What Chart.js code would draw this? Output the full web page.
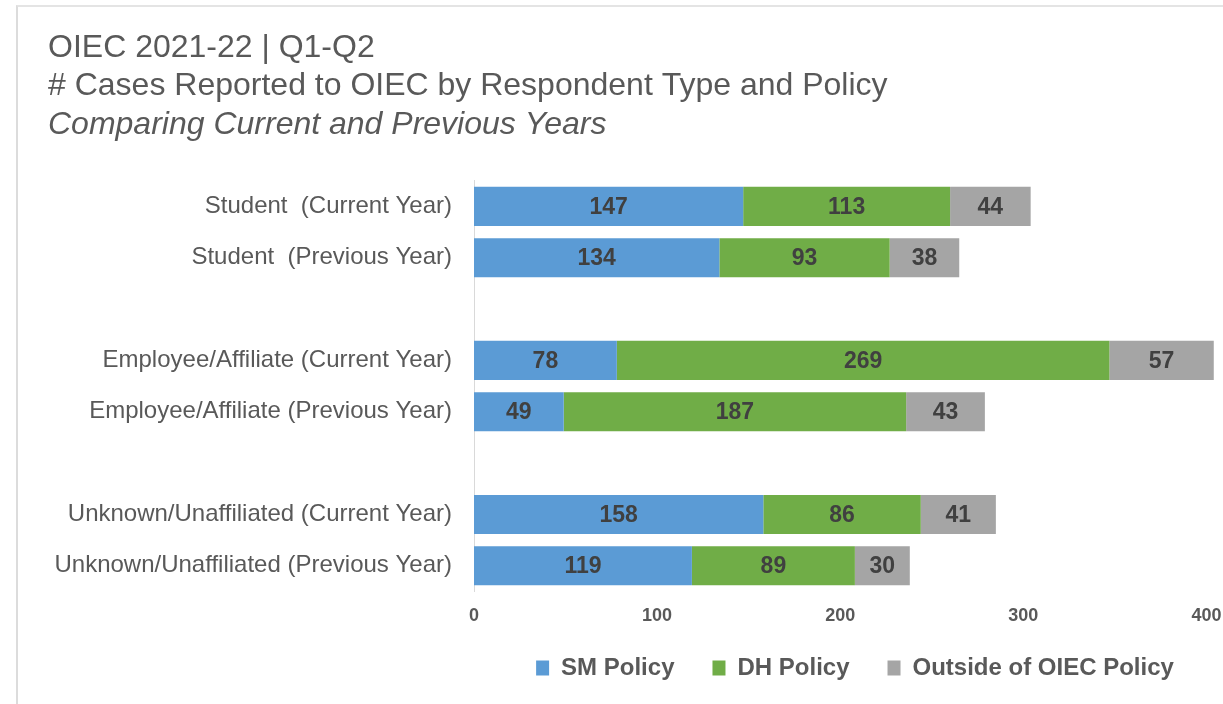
<!DOCTYPE html>
<html>
<head>
<meta charset="utf-8">
<script src="https://cdn.jsdelivr.net/npm/chart.js@4"></script>
<style>
  html, body { margin: 0; padding: 0; background: #fff; overflow: hidden; }
  #frame { position: absolute; left: 16px; top: 5px; width: 1300px; height: 720px;
           border-left: 2px solid #dcdcdc; border-top: 2px solid #e4e4e4; }
  #wrap { position: absolute; left: 0; top: 0; width: 1300px; height: 714px; }
</style>
</head>
<body>
<div id="frame"></div>
<div id="wrap"><canvas id="chart"></canvas></div>
<script>
// rows top to bottom, '' rows are the spacer rows between groups
var categories = [
    'Student  (Current Year)',
    'Student  (Previous Year)',
    '',
    'Employee/Affiliate (Current Year)',
    'Employee/Affiliate (Previous Year)',
    '',
    'Unknown/Unaffiliated (Current Year)',
    'Unknown/Unaffiliated (Previous Year)'
];
var smPolicy      = [147, 134, null, 78, 49, null, 158, 119];
var dhPolicy      = [113, 93, null, 269, 187, null, 86, 89];
var outsidePolicy = [44, 38, null, 57, 43, null, 41, 30];
var xTicks = [0, 100, 200, 300, 400];

var textGrey = '#595959';
var fontFamily = '"Liberation Sans", Arial, sans-serif';

// writes the value in the middle of each bar segment
var valueLabels = {
    id: 'valueLabels',
    afterDatasetsDraw: function(chart){
        var ctx = chart.ctx;
        ctx.save();
        ctx.font = 'bold 23px ' + fontFamily;
        ctx.fillStyle = '#404040';
        ctx.textAlign = 'center';
        ctx.textBaseline = 'middle';
        chart.data.datasets.forEach(function(ds, i){
            chart.getDatasetMeta(i).data.forEach(function(bar, j){
                if(ds.data[j] == null) return;
                ctx.fillText(ds.data[j], (bar.x + bar.base)/2, bar.y + 1);
            });
        });
        ctx.restore();
    }
};

// the legend sits centred under the visible part of the figure
var legendShift = {
    id: 'legendShift',
    afterLayout: function(chart){
        var lg = chart.legend;
        var w = lg.right - lg.left;
        var h = lg.bottom - lg.top;
        var pad = lg.options.labels.padding;
        var fs = lg.options.labels.font.size;
        lg.left = 855 - w/2;
        lg.right = lg.left + w;
        lg.top = 668 - pad - fs/2;
        lg.bottom = lg.top + h;
    }
};

var ctx = document.getElementById('chart').getContext('2d');
var myChart = new Chart(ctx, {
    type: 'bar',
    data: {
        labels: categories,
        datasets: [
            { label: 'SM Policy', data: smPolicy, backgroundColor: '#5B9BD5' },
            { label: 'DH Policy', data: dhPolicy, backgroundColor: '#70AD47' },
            { label: 'Outside of OIEC Policy', data: outsidePolicy, backgroundColor: '#A5A5A5' }
        ]
    },
    options: {
        indexAxis: 'y',
        responsive: true,
        maintainAspectRatio: false,
        animation: false,
        layout: { padding: { left: 48, right: 2, top: 8, bottom: 1 } },
        datasets: { bar: { barPercentage: 0.76, categoryPercentage: 1, borderWidth: 0 } },
        scales: {
            x: {
                stacked: true,
                min: 0,
                max: 450,
                grid: { display: false, drawTicks: false },
                border: { display: false },
                afterBuildTicks: function(scale){
                    scale.ticks = xTicks.map(function(v){ return { value: v }; });
                },
                ticks: {
                    padding: 14,
                    color: textGrey,
                    font: { family: fontFamily, size: 18, weight: 'bold' }
                }
            },
            y: {
                stacked: true,
                grid: { display: false, drawTicks: false },
                border: { display: true, color: '#d9d9d9', width: 1 },
                afterFit: function(scale){ scale.width = 426; },
                ticks: {
                    padding: 22,
                    color: textGrey,
                    autoSkip: false,
                    font: { family: fontFamily, size: 24 }
                }
            }
        },
        plugins: {
            title: {
                display: true,
                align: 'start',
                text: ['OIEC 2021-22 | Q1-Q2', '# Cases Reported to OIEC by Respondent Type and Policy'],
                color: textGrey,
                font: { family: fontFamily, size: 32, weight: 'normal', lineHeight: 1.2 },
                padding: { top: 21, bottom: 0 }
            },
            subtitle: {
                display: true,
                align: 'start',
                text: 'Comparing Current and Previous Years',
                color: textGrey,
                font: { family: fontFamily, size: 32, style: 'italic', lineHeight: 1.2 },
                padding: { top: 0, bottom: 36.5 }
            },
            legend: {
                position: 'bottom',
                labels: {
                    boxWidth: 13,
                    boxHeight: 15,
                    padding: 38,
                    color: textGrey,
                    font: { family: fontFamily, size: 24, weight: 'bold' }
                }
            },
            tooltip: { enabled: false }
        }
    },
    plugins: [valueLabels, legendShift]
});
</script>
</body>
</html>
